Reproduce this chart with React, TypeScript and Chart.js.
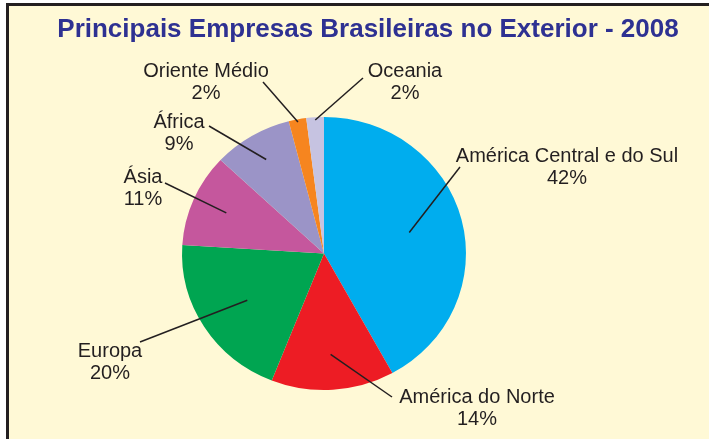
import { useEffect, useRef } from 'react';
import { Chart, registerables } from 'chart.js';

Chart.register(...registerables);

// ---- data ----
const titleText = 'Principais Empresas Brasileiras no Exterior - 2008';
const categories = [
  'América Central e do Sul',
  'América do Norte',
  'Europa',
  'Ásia',
  'África',
  'Oriente Médio',
  'Oceania',
];
const shares = [42, 14, 20, 11, 9, 2, 2];
const shareLabels = ['42%', '14%', '20%', '11%', '9%', '2%', '2%'];

// ---- style / layout ----
const sliceColors = ['#00ADEE', '#ED1C24', '#00A551', '#C5579D', '#9B94C7', '#F6851F', '#C6C3E1'];
const labelFont = '20px "Liberation Sans", Arial, sans-serif';
const titleFont = 'bold 26px "Liberation Sans", Arial, sans-serif';
const textColor = '#231F20';
const titleColor = '#2E3192';
const xStretch = 1.04;
// text anchor (center x, first baseline y), leader-line end, leader start as fraction of radius
const labelLayout = [
  { tx: 567, ty: 162, ex: 460, ey: 167, f: 0.62 },
  { tx: 477, ty: 403, ex: 392, ey: 397, f: 0.74 },
  { tx: 110, ty: 357, ex: 140, ey: 342, f: 0.64 },
  { tx: 143, ty: 183, ex: 165, ey: 183, f: 0.75 },
  { tx: 179, ty: 128, ex: 209, ey: 126, f: 0.8 },
  { tx: 206, ty: 77, ex: 263, ey: 82, f: 0.98 },
  { tx: 405, ty: 77, ex: 363, ey: 78, f: 0.98 },
];

const stretchPlugin = {
  id: 'stretch',
  beforeDatasetsDraw(chart: any) {
    const ctx = chart.ctx;
    const a = chart.chartArea;
    const cx = (a.left + a.right) / 2;
    const cy = (a.top + a.bottom) / 2;
    ctx.save();
    ctx.translate(cx, cy);
    ctx.scale(xStretch, 1);
    ctx.translate(-cx, -cy);
  },
  afterDatasetsDraw(chart: any) {
    chart.ctx.restore();
  },
};

const labelsPlugin = {
  id: 'labelsTitle',
  afterDraw(chart: any) {
    const ctx = chart.ctx;
    ctx.save();
    // title
    ctx.font = titleFont;
    ctx.fillStyle = titleColor;
    ctx.textAlign = 'center';
    ctx.textBaseline = 'alphabetic';
    ctx.fillText(titleText, 368, 37);

    const meta = chart.getDatasetMeta(0);
    meta.data.forEach((arc: any, i: number) => {
      const p = arc.getProps(['x', 'y', 'startAngle', 'endAngle', 'outerRadius'], true);
      const mid = (p.startAngle + p.endAngle) / 2;
      const L = labelLayout[i];
      const sx = p.x + Math.cos(mid) * p.outerRadius * L.f * xStretch;
      const sy = p.y + Math.sin(mid) * p.outerRadius * L.f;
      ctx.strokeStyle = textColor;
      ctx.lineWidth = 1.5;
      ctx.beginPath();
      ctx.moveTo(sx, sy);
      ctx.lineTo(L.ex, L.ey);
      ctx.stroke();
      ctx.font = labelFont;
      ctx.fillStyle = textColor;
      ctx.textAlign = 'center';
      ctx.fillText(categories[i], L.tx, L.ty);
      ctx.fillText(shareLabels[i], L.tx, L.ty + 22);
    });
    ctx.restore();
  },
};

export default function App() {
  const ref = useRef<HTMLCanvasElement>(null);
  useEffect(() => {
    document.body.style.margin = '0';
    const chart = new Chart(ref.current!, {
      type: 'pie',
      data: {
        labels: categories,
        datasets: [
          {
            data: shares,
            backgroundColor: sliceColors,
            borderWidth: 0,
          },
        ],
      },
      options: {
        responsive: false,
        animation: false,
        events: [],
        layout: { padding: { top: 117, bottom: 49, left: 187.5, right: 248.5 } },
        plugins: {
          legend: { display: false },
          tooltip: { enabled: false },
          title: { display: false },
        },
      },
      plugins: [stretchPlugin, labelsPlugin],
    });
    return () => chart.destroy();
  }, []);
  return (
    <div style={{ position: 'fixed', left: 0, top: 0, width: 709, height: 439, background: '#ffffff', overflow: 'hidden' }}>
      <div
        style={{
          position: 'absolute',
          left: 6,
          top: 3,
          right: 0,
          bottom: 0,
          borderLeft: '3px solid #231F20',
          borderTop: '3px solid #231F20',
          background: '#FFF9D6',
        }}
      />
      <canvas ref={ref} width={709} height={439} style={{ position: 'absolute', left: 0, top: 0, width: 709, height: 439 }} />
    </div>
  );
}
